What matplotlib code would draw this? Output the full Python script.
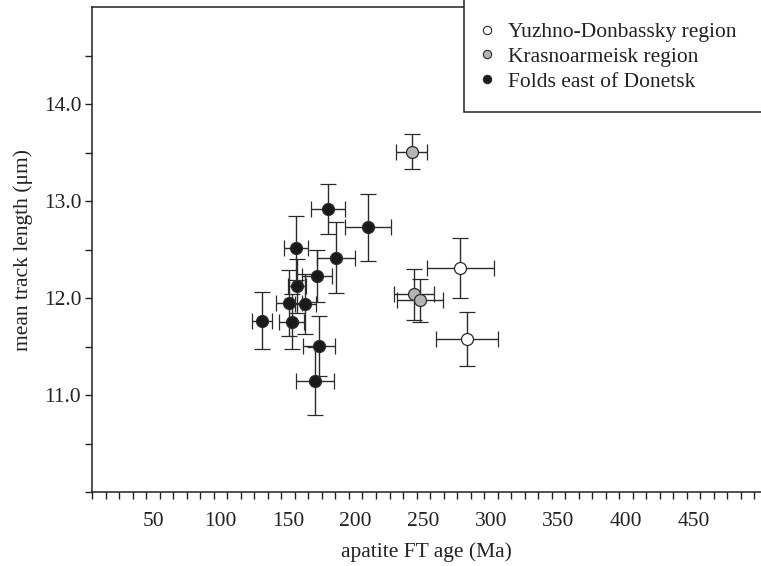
import matplotlib
matplotlib.use("Agg")
import matplotlib.pyplot as plt
import numpy as np
from matplotlib.lines import Line2D
from matplotlib.patches import Rectangle

plt.rcParams['font.family'] = ['Liberation Serif', 'DejaVu Serif']

# Yuzhno-Donbassky region (open circles)
yuz_age = [277.4, 282.4]
yuz_age_err = [25.0, 23.0]
yuz_len = [12.31, 11.58]
yuz_len_err = [0.31, 0.28]

# Krasnoarmeisk region (grey circles)
kra_age = [241.4, 243.1, 247.6]
kra_age_err = [11.7, 15.0, 17.0]
kra_len = [13.51, 12.04, 11.98]
kra_len_err = [0.18, 0.26, 0.22]

# Folds east of Donetsk (black circles)
fol_age = [179.7, 209.3, 155.6, 185.4, 171.3, 156.5, 150.6, 162.7, 130.6, 152.6, 172.6, 169.6]
fol_age_err = [12.6, 16.9, 8.9, 13.9, 11.3, 7.0, 9.3, 8.0, 7.3, 9.1, 11.8, 14.0]
fol_len = [12.92, 12.73, 12.52, 12.42, 12.23, 12.13, 11.95, 11.94, 11.77, 11.76, 11.51, 11.15]
fol_len_err = [0.26, 0.35, 0.33, 0.37, 0.27, 0.28, 0.34, 0.31, 0.29, 0.28, 0.31, 0.35]

x_labels = [50, 100, 150, 200, 250, 300, 350, 400, 450]
y_labels = [11.0, 12.0, 13.0, 14.0]

W, H = 761, 566
FS = 15.5
fig = plt.figure(figsize=(W / 100, H / 100), dpi=100)
ax = fig.add_axes([92.3 / W, (H - 492.3) / H, 1 - 92.3 / W, (492.3 - 7.3) / H])

ecol = '#2b2b2b'
groups = [
    (yuz_age, yuz_len, yuz_age_err, yuz_len_err, 'white', 'Yuzhno-Donbassky region'),
    (kra_age, kra_len, kra_age_err, kra_len_err, '#b4b4b4', 'Krasnoarmeisk region'),
    (fol_age, fol_len, fol_age_err, fol_len_err, '#1a1a1a', 'Folds east of Donetsk'),
]
handles = []
for xs, ys, xe, ye, fc, lab in groups:
    ax.errorbar(xs, ys, xerr=xe, yerr=ye, fmt='o', ms=8.6, mfc=fc, mec=ecol,
                mew=0.9, ecolor=ecol, elinewidth=1.0, capsize=5.8, capthick=1.0,
                zorder=3)
    handles.append(Line2D([], [], ls='none', marker='o', ms=6, mfc=fc,
                          mec=ecol, mew=0.8, label=lab))

ax.set_xlim(5, 500)
ax.set_ylim(10, 15)

ax.set_xticks(x_labels)
ax.set_xticklabels([str(v) for v in x_labels])
ax.set_xticks(np.arange(5, 500, 10), minor=True)
ax.set_yticks(y_labels)
ax.set_yticklabels(['%.1f' % v for v in y_labels])
ax.set_yticks(np.arange(10, 15, 0.5), minor=True)

ax.tick_params(axis='x', which='major', length=0, pad=14, labelsize=FS, colors='#222222')
ax.tick_params(axis='x', which='minor', length=5, width=1.0, direction='out', color='#222222')
ax.tick_params(axis='y', which='major', length=5, width=1.0, direction='out', pad=3,
               labelsize=FS, colors='#222222')
ax.tick_params(axis='y', which='minor', length=5, width=1.0, direction='out', color='#222222')

for s in ['left', 'bottom', 'top']:
    ax.spines[s].set_linewidth(1.1)
    ax.spines[s].set_color('#222222')
ax.spines['right'].set_visible(False)

ax.set_xlabel('apatite FT age (Ma)', fontsize=FS, color='#222222', labelpad=8)
ax.set_ylabel('mean track length (\u03bcm)', fontsize=FS, color='#222222', labelpad=8)

# legend box runs off the top and right edge of the figure
box = Rectangle((464 / W, (H - 111.7) / H), 0.5, 0.3, transform=fig.transFigure,
                facecolor='white', edgecolor='#222222', lw=1.1, clip_on=False, zorder=5)
fig.add_artist(box)
leg = fig.legend(handles=handles, loc='upper left', bbox_to_anchor=(478 / W, (H - 22) / H),
                 frameon=False, fontsize=FS, handlelength=0.8, handletextpad=0.6,
                 labelspacing=0.22, borderpad=0, borderaxespad=0)
leg.set_zorder(6)
for t in leg.get_texts():
    t.set_color('#222222')

fig.savefig('out.png', dpi=100)
